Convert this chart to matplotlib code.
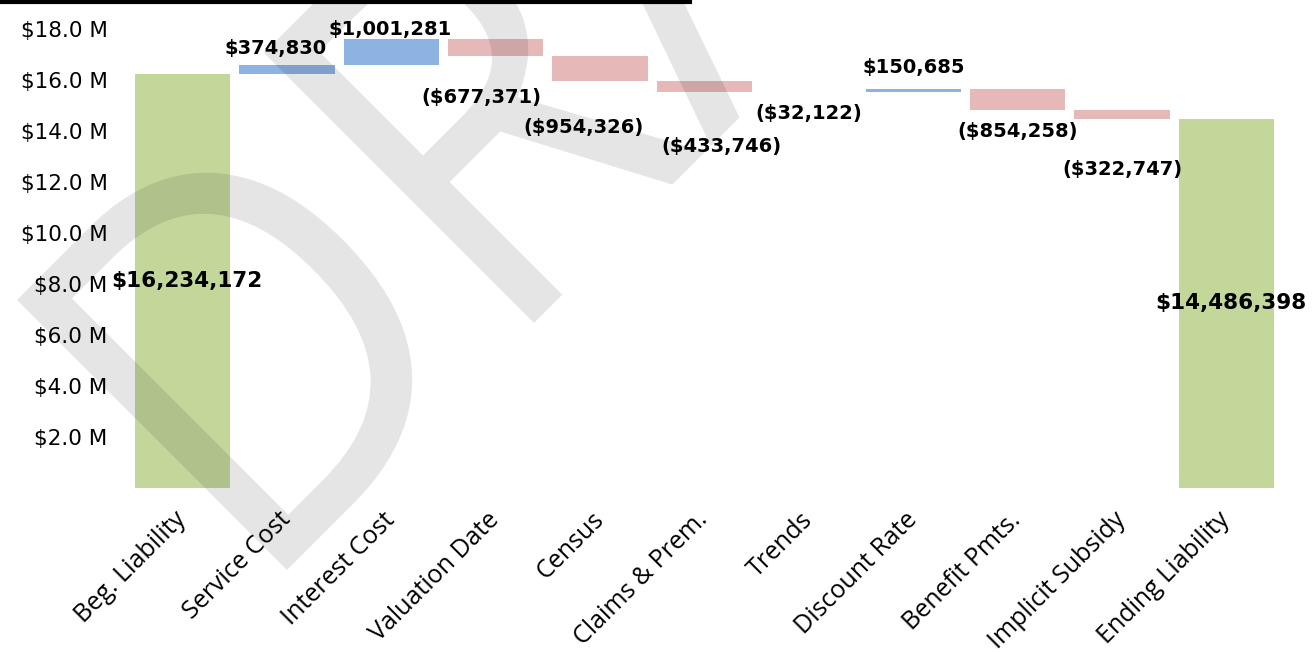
import numpy as np
import matplotlib.pyplot as plt
from matplotlib.lines import Line2D
from matplotlib.ticker import FuncFormatter
from matplotlib.textpath import TextPath
from matplotlib.patches import PathPatch
from matplotlib.font_manager import FontProperties
from matplotlib.transforms import Affine2D, IdentityTransform, ScaledTranslation


# data
categories = ["Beg. Liability", "Service Cost", "Interest Cost", "Valuation Date", "Census",
              "Claims & Prem.", "Trends", "Discount Rate", "Benefit Pmts.", "Implicit Subsidy",
              "Ending Liability"]
beg_liability = 16234172
changes = [374830, 1001281, -677371, -954326, -433746, -32122, 150685, -854258, -322747]
end_liability = 14486398
y_ticks = [2e6, 4e6, 6e6, 8e6, 10e6, 12e6, 14e6, 16e6, 18e6]

# colours
green = "#C4D79B"
blue = "#8DB3E2"
pink = "#E6B9B8"

# label nudges (pixels) for the change labels, as placed in the original
nudges = [(-11, -5), (-1, -11), (-14, -20), (-17, -26), (17, -34), (0, 0), (0, 0), (0, 0), (0, -30)]


def money(v):
    if v < 0:
        return "(${:,.0f})".format(-v)
    return "${:,.0f}".format(v)


fig = plt.figure(figsize=(13.12, 6.52), dpi=100)
ax = fig.add_axes([130.3 / 1312, 1 - 488 / 652, 1148.4 / 1312, 488 / 652])

x = np.arange(len(categories))
width = 0.915

# running totals
levels = beg_liability + np.cumsum([0] + changes)
bottoms = np.minimum(levels[:-1], levels[1:])
heights = np.abs(changes)
colors = [blue if c > 0 else pink for c in changes]

ax.bar(x[0], beg_liability, width, color=green)
ax.bar(x[1:-1], heights, width, bottom=bottoms, color=colors)
ax.bar(x[-1], end_liability, width, color=green)

# labels on totals
for xi, v in [(x[0], beg_liability), (x[-1], end_liability)]:
    ax.annotate(money(v), (xi, v / 2), xytext=(4, 0), textcoords="offset pixels",
                ha="center", va="center", fontsize=15.5, fontweight="bold")

# labels on changes: above for increases, below for decreases
for i, c in enumerate(changes):
    dx, dy = nudges[i]
    off = 21 + dy if c > 0 else -21 + dy
    ax.annotate(money(c), (x[i + 1], levels[i + 1]), xytext=(dx, off),
                textcoords="offset pixels", ha="center", va="center",
                fontsize=14, fontweight="bold")

ax.set_xlim(-0.5, len(categories) - 0.5)
ax.set_ylim(0, 19.14e6)
ax.set_yticks(y_ticks)
ax.yaxis.set_major_formatter(FuncFormatter(lambda v, p: "${:.1f} M".format(v / 1e6)))
ax.tick_params(axis="y", length=0, pad=16.5, labelsize=15.5)
ax.set_xticks(x)
ax.set_xticklabels(categories, rotation=45, ha="right", rotation_mode="anchor",
                   family="Open Sans", fontsize=18)
ax.tick_params(axis="x", length=0, pad=14)
shift = ScaledTranslation(-9 / 100, 0, fig.dpi_scale_trans)
for lab in ax.get_xticklabels():
    lab.set_transform(lab.get_transform() + shift)
for s in ax.spines.values():
    s.set_visible(False)

# title underline cut off at the top
fig.add_artist(Line2D([0, 690 / 1312], [1 - 2 / 652, 1 - 2 / 652], color="black", lw=3))

# DRAFT watermark, drawn as a path so it can be placed by its ink
fp = FontProperties(family="Open Sans")
em = 535
wm = TextPath((0, 0), "DRAFT", size=em, prop=fp)
d_left = TextPath((0, 0), "D", size=em, prop=fp).get_extents().x0
tr = Affine2D().translate(-d_left, 0).scale(0.9, 1).rotate_deg(45).translate(287, 652 - 570)
fig.add_artist(PathPatch(tr.transform_path(wm), transform=IdentityTransform(),
                         facecolor="black", edgecolor="none", alpha=0.1))

fig.savefig("out.png", dpi=100)
